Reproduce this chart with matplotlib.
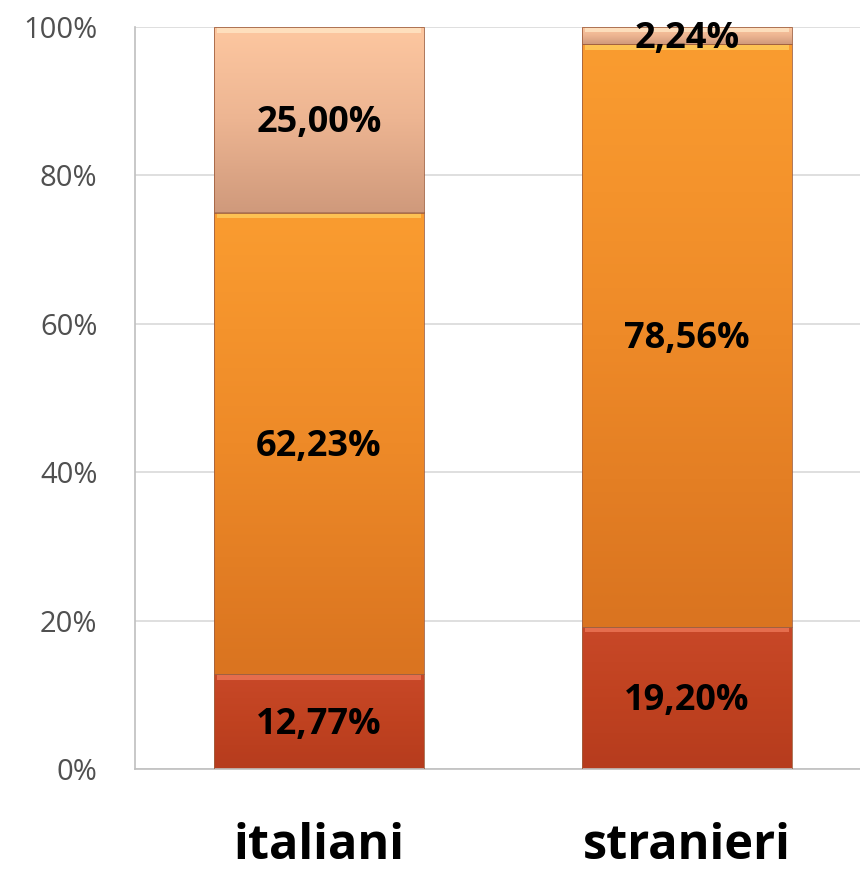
import numpy as np
import matplotlib.pyplot as plt
from matplotlib.colors import LinearSegmentedColormap

# data (percent shares, stacked bottom -> top)
categories = ['italiani', 'stranieri']
bottom_share = [12.77, 19.20]
middle_share = [62.23, 78.56]
top_share = [25.00, 2.24]
yticks = [0, 20, 40, 60, 80, 100]

# gradient colours for each series (bevel highlight, then top -> bottom)
series = [
    (bottom_share, ['#F07A5A', '#C84828', '#C04220', '#B63C1E']),
    (middle_share, ['#FFD060', '#FA9C30', '#EE8A28', '#DA7420']),
    (top_share, ['#FFE8C8', '#FDC7A0', '#EDB592', '#D09A7C']),
]

plt.rcParams['font.family'] = ['Open Sans', 'DejaVu Sans']

fig = plt.figure(figsize=(8.6, 8.72), dpi=100)
W, H = 860, 872
ax = fig.add_axes([135 / W, (H - 769) / H, 725 / W, 742 / H])

x = np.arange(len(categories))
width = 0.568
base = np.zeros(len(categories))
for values, cols in series:
    cmap = LinearSegmentedColormap.from_list('g', cols[1:])
    bars = ax.bar(x, values, width, bottom=base, color='none',
                  edgecolor='#A06040', linewidth=0.6, zorder=3)
    for b, v, b0 in zip(bars, values, base):
        # vertical gradient clipped to the bar (row 0 = top)
        grad = np.linspace(0, 1, 64).reshape(-1, 1)
        img = ax.imshow(grad, cmap=cmap, aspect='auto', zorder=2,
                        extent=[b.get_x(), b.get_x() + width, b0, b0 + v],
                        interpolation='bicubic')
        img.set_clip_path(b)
        # light bevel on the top edge
        hi = min(0.8, v * 0.3)
        ax.fill_between([b.get_x() + 0.008, b.get_x() + width - 0.008],
                        b0 + v - hi, b0 + v, color=cols[0], alpha=0.75,
                        linewidth=0, zorder=2.5)
        ax.text(b.get_x() + width / 2, b0 + v / 2 - 0.5,
                '{:.2f}%'.format(v).replace('.', ','),
                ha='center', va='center', fontsize=26, fontweight='bold',
                color='black', zorder=5)
    base = base + np.array(values)

ax.set_xlim(-0.5, -0.5 + 725 / 368)
ax.set_ylim(0, 100)
ax.set_yticks(yticks)
ax.set_yticklabels(['{}%'.format(t) for t in yticks], fontsize=21,
                   color='#505050')
ax.set_xticks(x)
ax.set_xticklabels(categories, fontsize=35, fontweight='bold')
ax.tick_params(axis='y', length=0, pad=27)
ax.tick_params(axis='x', length=0, pad=38)
ax.grid(axis='y', color='#D9D9D9', linewidth=1.2, zorder=0)
ax.set_axisbelow(True)
for s in ['top', 'right']:
    ax.spines[s].set_visible(False)
ax.spines['left'].set_color('#BFBFBF')
ax.spines['bottom'].set_color('#BFBFBF')
ax.spines['left'].set_linewidth(1.2)
ax.spines['bottom'].set_linewidth(1.2)

fig.savefig('out.png', dpi=100)
